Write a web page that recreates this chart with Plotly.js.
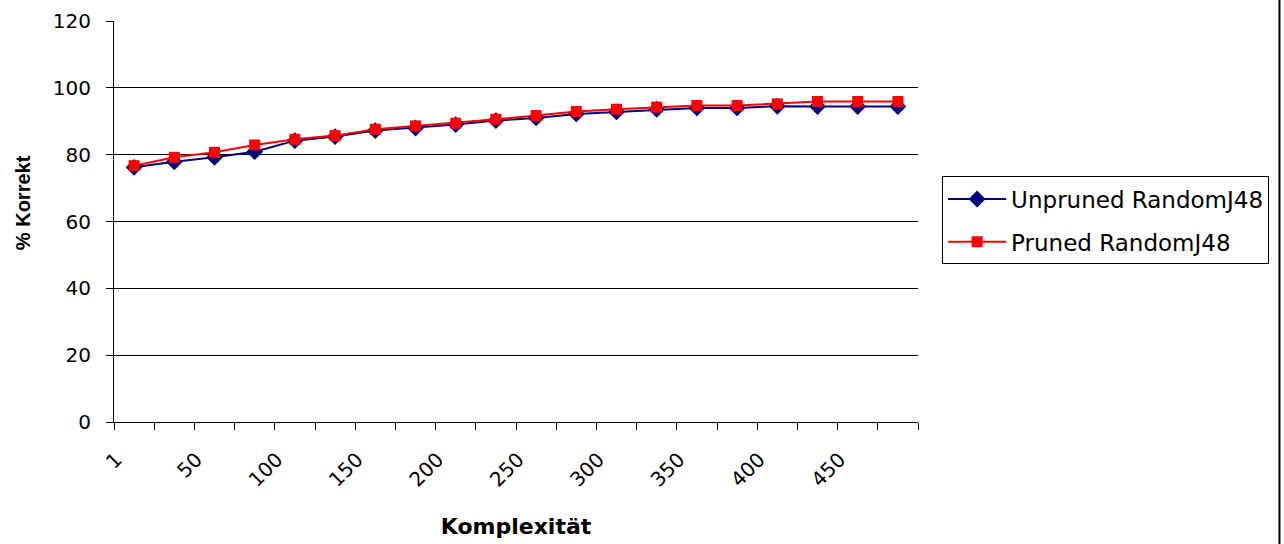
<!DOCTYPE html>
<html>
<head>
<meta charset="utf-8">
<script src="https://cdn.plot.ly/plotly-3.0.1.min.js"></script>
<style>html,body{margin:0;padding:0;background:#fff;}#chart{width:1284px;height:544px;}</style>
</head>
<body>
<div id="chart"></div>
<script>
const categories = ['1','25','50','75','100','125','150','175','200','225','250','275','300','325','350','375','400','425','450','475'];
const shownTicks = ['1','50','100','150','200','250','300','350','400','450'];
const unpruned = [76.2, 77.9, 79.2, 80.9, 84.2, 85.4, 87.2, 88.0, 89.0, 90.2, 91.0, 92.2, 92.8, 93.6, 94.0, 94.0, 94.5, 94.4, 94.4, 94.4];
const pruned   = [76.7, 79.2, 80.7, 82.9, 84.6, 85.7, 87.6, 88.6, 89.4, 90.6, 91.7, 92.9, 93.6, 94.2, 94.7, 94.7, 95.2, 95.9, 95.9, 95.9];
const seriesNames = ['Unpruned RandomJ48', 'Pruned RandomJ48'];
const yTicks = [0, 20, 40, 60, 80, 100, 120];
const xTitle = 'Komplexität';
const yTitle = '% Korrekt';

const FONT = 'DejaVu Sans, Liberation Sans, Arial, sans-serif';
const FONT_A = 'Liberation Sans, Arial, sans-serif';

const traces = [
  {
    x: categories, y: unpruned, name: seriesNames[0], type: 'scatter', mode: 'lines+markers',
    line: {color: '#000080', width: 2},
    marker: {symbol: 'diamond', size: 13, color: '#000080'},
    legendgroup: 'a'
  },
  {
    x: categories, y: pruned, name: seriesNames[1], type: 'scatter', mode: 'lines+markers',
    line: {color: '#FF0000', width: 2},
    marker: {symbol: 'square', size: 11, color: '#FF0000'},
    legendgroup: 'b'
  }
];

const layout = {
  width: 1284, height: 544,
  margin: {l: 114, r: 366, t: 21, b: 122},
  paper_bgcolor: '#fff', plot_bgcolor: '#fff',
  font: {family: FONT, color: '#000', size: 20},
  showlegend: true,
  xaxis: {
    type: 'category',
    categoryorder: 'array', categoryarray: categories,
    range: [-0.5, categories.length - 0.5],
    tickmode: 'array', tickvals: categories,
    ticktext: categories.map(c => shownTicks.includes(c) ? c : ''),
    tickson: 'boundaries',
    ticks: 'outside', ticklen: 7, tickcolor: '#000', tickwidth: 1,
    tickangle: -45,
    ticklabelstandoff: 17,
    ticklabelshift: -18,
    tickfont: {family: FONT, size: 20, color: '#000'},
    showline: true, linecolor: '#000', linewidth: 1,
    showgrid: false, zeroline: false,
    title: {text: xTitle, font: {family: FONT, size: 22, color: '#000', weight: 'bold'}, standoff: 27}
  },
  yaxis: {
    range: [0, 120],
    tickmode: 'array', tickvals: yTicks,
    ticks: 'outside', ticklen: 7, tickcolor: '#000', tickwidth: 1,
    ticklabelstandoff: 11,
    tickfont: {family: FONT, size: 20, color: '#000'},
    showline: true, linecolor: '#000', linewidth: 1,
    showgrid: true, gridcolor: '#000', gridwidth: 1,
    zeroline: false
  },
  annotations: [
    {text: yTitle, xref: 'paper', yref: 'paper', x: -0.1138, y: 0.547,
     xanchor: 'center', yanchor: 'middle', textangle: -90, showarrow: false,
     font: {family: FONT_A, size: 20, color: '#000', weight: 'bold'}}
  ],
  legend: {
    x: 1.03, xanchor: 'left', y: 0.5025, yanchor: 'middle',
    bordercolor: '#000', borderwidth: 1, bgcolor: '#fff',
    font: {family: FONT, size: 23, color: '#000'},
    itemwidth: 58,
    traceorder: 'grouped', tracegroupgap: 10
  },
  shapes: [
    {type: 'line', xref: 'paper', yref: 'paper', x0: 1.4496, x1: 1.4496, y0: -0.31, y1: 1.06,
     line: {color: '#000', width: 2}}
  ]
};

Plotly.newPlot('chart', traces, layout, {displayModeBar: false, staticPlot: true});
</script>
</body>
</html>
